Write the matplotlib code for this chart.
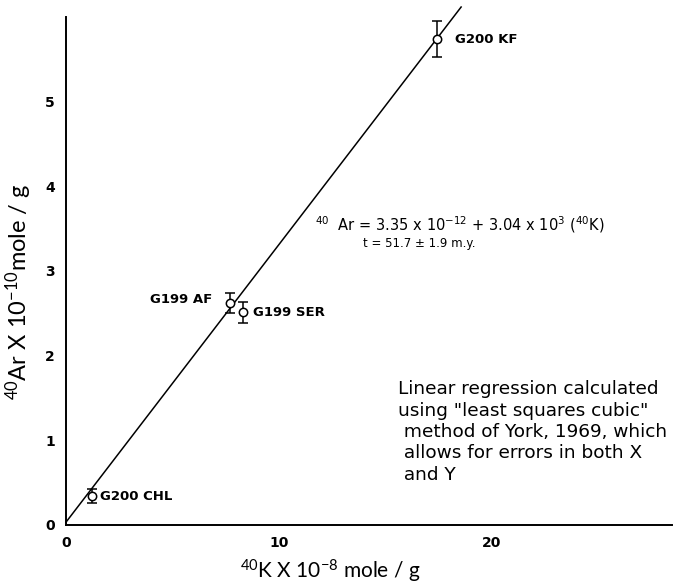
import matplotlib.pyplot as plt

plt.rcParams['font.family'] = ['DejaVu Sans']
plt.rcParams['mathtext.default'] = 'regular'

# sample data: 40K (x 1e-8 mole/g) against 40Ar (x 1e-10 mole/g)
names = ["G200 CHL", "G199 AF", "G199 SER", "G200 KF"]
k40 = [1.22, 7.7, 8.3, 17.4]
ar40 = [0.34, 2.62, 2.51, 5.74]
ar_err = [0.08, 0.12, 0.12, 0.21]

# York regression line
fit_intercept = 0.0335
fit_slope = 0.328
fit_x = [0, 18.55]

fig = plt.figure(figsize=(6.73, 5.87), dpi=100)
ax = fig.add_axes([66 / 673, 62 / 587, 606 / 673, 508 / 587])

fit_y = [fit_intercept + fit_slope * x for x in fit_x]
ax.plot(fit_x, fit_y, color="black", lw=1.1, clip_on=False)

ax.errorbar(k40, ar40, yerr=ar_err, fmt="o", ms=6, mfc="white", mec="black",
            mew=1.1, ecolor="black", elinewidth=1.1, capsize=3.5, capthick=1.1,
            zorder=3)

offsets = {"G200 CHL": (6, 0, "left"), "G199 AF": (-13, 3, "right"),
           "G199 SER": (7, 0, "left"), "G200 KF": (13, 0, "left")}
for name, x, y in zip(names, k40, ar40):
    dx, dy, ha = offsets[name]
    ax.annotate(name, (x, y), xytext=(dx, dy), textcoords="offset points",
                ha=ha, va="center", fontsize=9.5, fontweight="bold")

ax.text(11.7, 3.55, r"$^{40}$  Ar = 3.35 x 10$^{-12}$ + 3.04 x 10$^{3}$ ($^{40}$K)",
        fontsize=10.5, ha="left", va="center")
ax.text(16.6, 3.33, "t = 51.7 ± 1.9 m.y.", fontsize=8.5, ha="center", va="center")

ax.text(15.6, 1.71,
        "Linear regression calculated\n"
        "using \"least squares cubic\"\n"
        " method of York, 1969, which\n"
        " allows for errors in both X\n"
        " and Y",
        fontsize=13.3, ha="left", va="top", linespacing=1.24)

ax.set_xlim(0, 28.45)
ax.set_ylim(0, 6.0)
ax.set_xticks([0, 10, 20])
ax.set_yticks([0, 1, 2, 3, 4, 5])
ax.tick_params(length=0, labelsize=10, pad=8)
for lbl in ax.get_xticklabels() + ax.get_yticklabels():
    lbl.set_fontweight("bold")

for side in ["top", "right"]:
    ax.spines[side].set_visible(False)
for side in ["left", "bottom"]:
    ax.spines[side].set_linewidth(1.4)

ax.set_xlabel(r"$^{40}$K X 10$^{-8}$ mole / g", fontsize=15, family="Lato")
ax.set_ylabel(r"$^{40}$Ar X 10$^{-10}$mole / g", fontsize=17, family="Lato")
ax.xaxis.set_label_coords(0.436, -0.065)
ax.yaxis.set_label_coords(-0.052, 0.46)

fig.savefig("out.png", dpi=100)
